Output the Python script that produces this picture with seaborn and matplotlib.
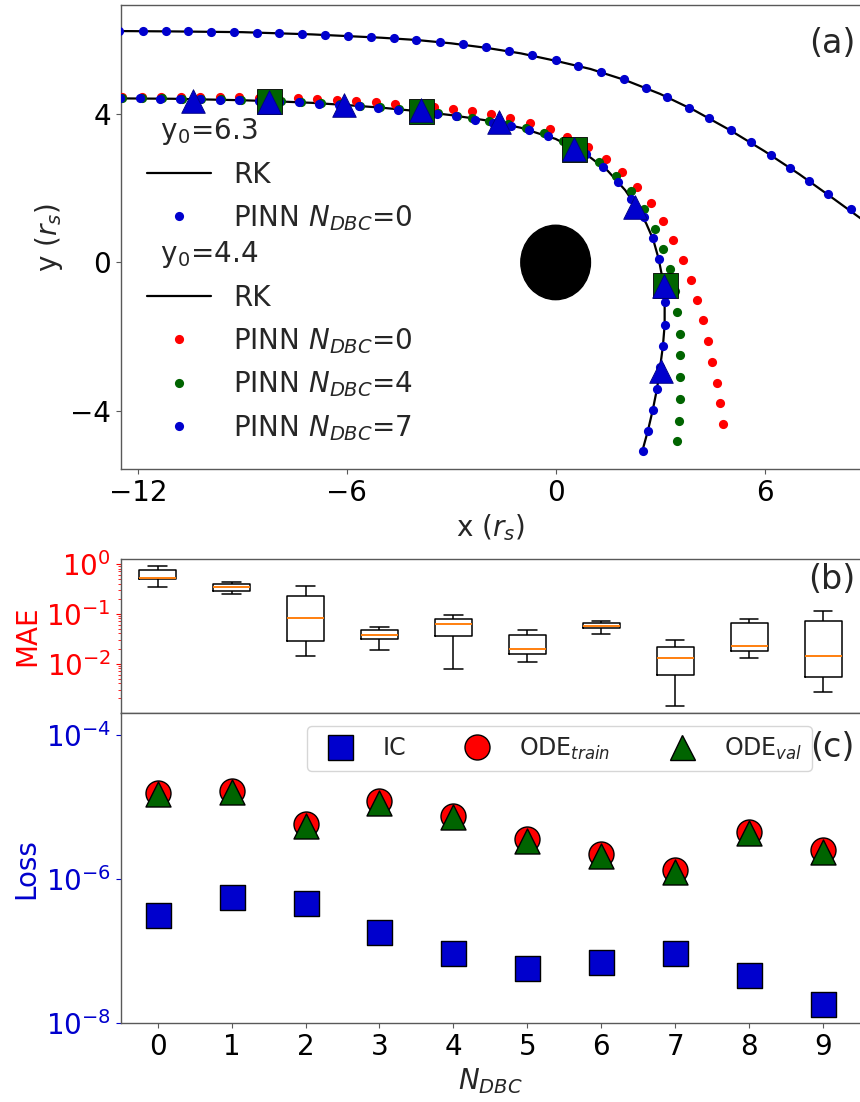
import numpy as np
import pandas as pd
import matplotlib
matplotlib.use("Agg")
import matplotlib.pyplot as plt
import seaborn as sns
from matplotlib.patches import Circle
from matplotlib.lines import Line2D
from matplotlib.ticker import FixedLocator, NullLocator

# ---------------- data: panel (a) trajectories ----------------
# y0 = 6.3 : PINN N_DBC=0 (blue dots) and RK reference
up_pinn_x = [-12.55, -11.86, -11.20, -10.55, -9.90, -9.24, -8.58, -7.93, -7.28, -6.62,
             -5.97, -5.31, -4.65, -4.00, -3.31, -2.66, -1.99, -1.35, -0.69, 0.00,
             0.65, 1.30, 1.96, 2.59, 3.21, 3.84, 4.41, 5.03, 5.61, 6.18,
             6.73, 7.28, 7.82, 8.48]
up_pinn_y = [6.22, 6.22, 6.21, 6.21, 6.20, 6.19, 6.17, 6.16, 6.14, 6.11,
             6.09, 6.06, 6.02, 5.98, 5.93, 5.86, 5.78, 5.68, 5.57, 5.44,
             5.29, 5.12, 4.92, 4.69, 4.44, 4.16, 3.87, 3.56, 3.23, 2.89,
             2.54, 2.19, 1.83, 1.43]
up_rk_x = [-12.6, -11, -9, -7, -5, -4, -3, -2, -1, 0, 1, 2, 3, 4, 5, 6, 7, 8, 9]
up_rk_y = [6.22, 6.21, 6.19, 6.13, 6.04, 5.98, 5.89, 5.77, 5.62, 5.42, 5.20, 4.90,
           4.53, 4.08, 3.56, 2.99, 2.37, 1.70, 1.02]

# y0 = 4.4 : RK reference
lo_rk_x = [-12.6, -11, -10, -9, -8, -7, -6, -5, -4, -3, -2, -1, 0, 0.5, 1.0, 1.5,
           2.0, 2.3, 2.6, 2.8, 2.96, 3.08, 3.13, 3.13, 3.08, 3.0, 2.91, 2.79, 2.65, 2.48]
lo_rk_y = [4.41, 4.40, 4.38, 4.36, 4.33, 4.29, 4.23, 4.16, 4.07, 3.96, 3.82, 3.62,
           3.32, 3.08, 2.82, 2.46, 1.94, 1.52, 1.05, 0.62, 0.09, -0.49, -1.07, -1.68,
           -2.25, -2.82, -3.40, -3.96, -4.52, -5.10]

# y0 = 4.4 : PINN N_DBC=0 (red)
lo_n0_x = [-12.45, -11.89, -11.33, -10.77, -10.21, -9.65, -9.09, -8.53, -7.97, -7.41,
           -6.85, -6.29, -5.73, -5.17, -4.61, -4.05, -3.49, -2.94, -2.40, -1.85,
           -1.31, -0.74, -0.17, 0.34, 0.94, 1.45, 1.90, 2.34, 2.75, 3.08,
           3.37, 3.66, 3.88, 4.06, 4.24, 4.38, 4.50, 4.62, 4.71, 4.81]
lo_n0_y = [4.45, 4.45, 4.45, 4.45, 4.45, 4.45, 4.44, 4.43, 4.42, 4.41,
           4.39, 4.37, 4.34, 4.31, 4.27, 4.23, 4.18, 4.12, 4.06, 3.98,
           3.89, 3.76, 3.58, 3.37, 3.09, 2.79, 2.44, 2.03, 1.59, 1.12,
           0.61, 0.07, -0.46, -1.00, -1.55, -2.12, -2.68, -3.24, -3.78, -4.34]

# y0 = 4.4 : PINN N_DBC=4 (green)
lo_n4_x = [-12.45, -11.88, -11.31, -10.74, -10.17, -9.60, -9.03, -8.46, -7.89, -7.32,
           -6.75, -6.18, -5.61, -5.05, -4.49, -3.93, -3.38, -2.84, -2.40, -1.90,
           -1.38, -0.86, -0.33, 0.20, 0.72, 1.25, 1.74, 2.17, 2.55, 2.84,
           3.08, 3.27, 3.42, 3.49, 3.56, 3.58, 3.58, 3.56, 3.54, 3.49]
lo_n4_y = [4.41, 4.41, 4.41, 4.40, 4.39, 4.38, 4.37, 4.35, 4.33, 4.31,
           4.28, 4.25, 4.21, 4.17, 4.12, 4.07, 4.01, 3.94, 3.88, 3.80,
           3.71, 3.62, 3.49, 3.27, 3.00, 2.69, 2.33, 1.92, 1.43, 0.90,
           0.36, -0.18, -0.76, -1.34, -1.92, -2.50, -3.09, -3.67, -4.25, -4.81]

# y0 = 4.4 : PINN N_DBC=7 (blue)
lo_n7_x = [-12.50, -11.93, -11.36, -10.79, -10.22, -9.65, -9.08, -8.51, -7.94, -7.37,
           -6.80, -6.23, -5.66, -5.10, -4.54, -3.98, -3.42, -2.87, -2.32, -1.81,
           -1.29, -0.76, -0.21, 0.34, 0.87, 1.35, 1.78, 2.17, 2.53, 2.79,
           2.96, 3.08, 3.13, 3.13, 3.08, 3.01, 2.91, 2.79, 2.65, 2.52]
lo_n7_y = [4.41, 4.41, 4.40, 4.39, 4.38, 4.37, 4.36, 4.34, 4.32, 4.30,
           4.27, 4.24, 4.20, 4.16, 4.11, 4.06, 4.00, 3.93, 3.84, 3.75,
           3.66, 3.55, 3.40, 3.18, 2.91, 2.57, 2.15, 1.70, 1.21, 0.67,
           0.09, -0.49, -1.07, -1.68, -2.25, -2.82, -3.40, -3.96, -4.52, -5.07]

# data boundary condition points
dbc4_x = [-8.23, -3.86, 0.52, 3.13]
dbc4_y = [4.33, 4.08, 3.05, -0.61]
dbc7_x = [-10.41, -8.23, -6.07, -3.86, -1.63, 0.52, 2.28, 3.10, 3.03]
dbc7_y = [4.35, 4.32, 4.22, 4.09, 3.78, 3.05, 1.50, -0.63, -2.91]

# ---------------- data: panel (b) MAE box statistics ----------------
n_dbc = [0, 1, 2, 3, 4, 5, 6, 7, 8, 9]
mae_min = [0.34, 0.25, 0.0142, 0.0185, 0.0077, 0.0108, 0.0392, 0.0014, 0.0132, 0.00267]
mae_q1 = [0.49, 0.28, 0.0288, 0.0316, 0.0357, 0.0156, 0.0517, 0.00585, 0.0177, 0.0055]
mae_med = [0.52, 0.34, 0.081, 0.037, 0.061, 0.0194, 0.0575, 0.0132, 0.0222, 0.0145]
mae_q3 = [0.76, 0.40, 0.225, 0.048, 0.077, 0.0375, 0.066, 0.0215, 0.066, 0.0713]
mae_max = [0.90, 0.42, 0.357, 0.054, 0.0955, 0.0464, 0.0724, 0.0297, 0.077, 0.111]

# ---------------- data: panel (c) losses ----------------
loss_ic = [3.18e-7, 5.71e-7, 4.72e-7, 1.83e-7, 9.35e-8, 5.8e-8, 7.1e-8, 9.35e-8, 4.67e-8, 1.84e-8]
loss_ode_train = [1.58e-5, 1.69e-5, 5.82e-6, 1.23e-5, 7.51e-6, 3.57e-6, 2.24e-6, 1.34e-6, 4.56e-6, 2.54e-6]
loss_ode_val = [1.50e-5, 1.60e-5, 5.47e-6, 1.15e-5, 7.21e-6, 3.42e-6, 2.12e-6, 1.27e-6, 4.33e-6, 2.41e-6]

# ---------------- style ----------------
sns.set_style("ticks")
plt.rcParams["font.family"] = ["DejaVu Sans"]
plt.rcParams["mathtext.fontset"] = "dejavusans"
plt.rcParams["font.size"] = 20
plt.rcParams["axes.edgecolor"] = "0.35"
plt.rcParams["axes.linewidth"] = 1.0
plt.rcParams["xtick.color"] = "0.35"
plt.rcParams["ytick.color"] = "0.35"
plt.rcParams["xtick.labelcolor"] = "black"
plt.rcParams["ytick.labelcolor"] = "black"

BLUE = "#0000CD"
GREEN = "#006400"
RED = "#FF0000"
W, H = 860, 1102
fig = plt.figure(figsize=(W / 100, H / 100), dpi=100)

def pos(l, t, r, b):
    return [l / W, 1 - b / H, (r - l) / W, (b - t) / H]

ax_a = fig.add_axes(pos(120.7, 5, 860, 469.3))
ax_b = fig.add_axes(pos(120.7, 559, 860, 713.3))
ax_c = fig.add_axes(pos(120.7, 713.3, 860, 1023.3))
for ax in (ax_a, ax_b, ax_c):
    ax.spines["right"].set_visible(False)
    ax.tick_params(length=3.5, width=0.8, labelsize=20)

# ---------------- panel (a) ----------------
ax_a.add_patch(Circle((0, 0), 1.0, color="black", zorder=2))
sns.lineplot(x=up_rk_x, y=up_rk_y, sort=False, estimator=None, color="black", lw=1.6, ax=ax_a, zorder=2)
sns.lineplot(x=lo_rk_x, y=lo_rk_y, sort=False, estimator=None, color="black", lw=1.6, ax=ax_a, zorder=2)
DOT = 6.6
sns.scatterplot(x=up_pinn_x, y=up_pinn_y, color=BLUE, s=DOT ** 2, linewidth=0, ax=ax_a, zorder=3)
sns.scatterplot(x=lo_n0_x, y=lo_n0_y, color=RED, s=DOT ** 2, linewidth=0, ax=ax_a, zorder=3)
sns.scatterplot(x=lo_n4_x, y=lo_n4_y, color=GREEN, s=DOT ** 2, linewidth=0, ax=ax_a, zorder=3)
sns.scatterplot(x=lo_n7_x, y=lo_n7_y, color=BLUE, s=DOT ** 2, linewidth=0, ax=ax_a, zorder=3)
sns.scatterplot(x=dbc4_x, y=dbc4_y, marker="s", color=GREEN, s=18 ** 2, edgecolor="black", linewidth=0.6, ax=ax_a, zorder=4)
sns.scatterplot(x=dbc7_x, y=dbc7_y, marker="^", color=BLUE, s=17 ** 2, edgecolor="#000080", linewidth=0.6, ax=ax_a, zorder=5)

ax_a.set_xlim(-12.49, 8.74)
ax_a.set_ylim(-5.56, 6.92)
ax_a.xaxis.set_major_locator(FixedLocator([-12, -6, 0, 6]))
ax_a.yaxis.set_major_locator(FixedLocator([-4, 0, 4]))
ax_a.set_xlabel("x ($r_s$)", fontsize=20)
ax_a.set_ylabel("y ($r_s$)", fontsize=20)
ax_a.text(0.962, 0.918, "(a)", transform=ax_a.transAxes, fontsize=24, ha="center", va="center")

rk_h = Line2D([], [], color="black", lw=1.6)
def dot_h(c):
    return Line2D([], [], ls="", marker="o", ms=DOT, color=c, mew=0)

leg1 = ax_a.legend([rk_h, dot_h(BLUE)], ["RK", "PINN $N_{DBC}$=0"],
                   title="\u2002y$_0$=6.3", title_fontsize=20, alignment="left",
                   loc="upper left", bbox_to_anchor=(0.0207, 0.785), borderaxespad=0,
                   frameon=False, fontsize=20, handlelength=2.3, labelspacing=0.5,
                   borderpad=0.4)
ax_a.add_artist(leg1)
ax_a.legend([rk_h, dot_h(RED), dot_h(GREEN), dot_h(BLUE)],
            ["RK", "PINN $N_{DBC}$=0", "PINN $N_{DBC}$=4", "PINN $N_{DBC}$=7"],
            title="\u2002y$_0$=4.4", title_fontsize=20, alignment="left",
            loc="upper left", bbox_to_anchor=(0.0207, 0.52), borderaxespad=0,
            frameon=False, fontsize=20, handlelength=2.3, labelspacing=0.5,
            borderpad=0.4)

# ---------------- panel (b) ----------------
mae_vals = []
mae_cat = []
for i, n in enumerate(n_dbc):
    mae_vals += [mae_min[i], mae_q1[i], mae_med[i], mae_q3[i], mae_max[i]]
    mae_cat += [n] * 5
mae_df = pd.DataFrame({"N": mae_cat, "MAE": mae_vals})
sns.boxplot(data=mae_df, x="N", y="MAE", ax=ax_b, whis=(0, 100), width=0.5,
            fill=False, color="black", linecolor="black", linewidth=1.1,
            medianprops=dict(color="#FF7F0E", linewidth=1.4),
            showfliers=False, log_scale=True)
ax_b.set_xlim(-0.5, 9.5)
ax_b.set_ylim(1.01e-3, 1.24)
ax_b.set_xlabel("")
ax_b.set_ylabel("MAE", color="red", fontsize=20)
ax_b.tick_params(axis="x", bottom=False, labelbottom=False)
ax_b.tick_params(axis="y", which="both", colors="red", labelcolor="red")
ax_b.tick_params(axis="y", which="minor", length=2)
ax_b.text(0.962, 0.87, "(b)", transform=ax_b.transAxes, fontsize=24, ha="center", va="center")

# ---------------- panel (c) ----------------
ax_c.set_yscale("log")
ms = 18
sns.scatterplot(x=n_dbc, y=loss_ic, marker="s", color=BLUE, s=ms ** 2, edgecolor="black", linewidth=1.0, ax=ax_c, zorder=3)
sns.scatterplot(x=n_dbc, y=loss_ode_train, marker="o", color=RED, s=ms ** 2, edgecolor="black", linewidth=1.0, ax=ax_c, zorder=3)
sns.scatterplot(x=n_dbc, y=loss_ode_val, marker="^", color=GREEN, s=ms ** 2, edgecolor="black", linewidth=1.0, ax=ax_c, zorder=4)
ax_c.set_xlim(-0.5, 9.5)
ax_c.set_ylim(1e-8, 2e-4)
ax_c.xaxis.set_major_locator(FixedLocator(n_dbc))
ax_c.yaxis.set_major_locator(FixedLocator([1e-8, 1e-6, 1e-4]))
ax_c.yaxis.set_minor_locator(NullLocator())
ax_c.tick_params(axis="y", colors=BLUE, labelcolor=BLUE)
ax_c.set_xlabel("$N_{DBC}$", fontsize=20)
ax_c.set_ylabel("Loss", color=BLUE, fontsize=20)
ax_c.text(0.962, 0.891, "(c)", transform=ax_c.transAxes, fontsize=24, ha="center", va="center")

handles_c = [Line2D([], [], ls="", marker="s", ms=ms, mfc=BLUE, mec="black", mew=1.0),
             Line2D([], [], ls="", marker="o", ms=ms, mfc=RED, mec="black", mew=1.0),
             Line2D([], [], ls="", marker="^", ms=ms, mfc=GREEN, mec="black", mew=1.0)]
ax_c.legend(handles_c, ["IC", "ODE$_{train}$", "ODE$_{val}$"], ncol=3, fontsize=17,
            loc="upper right", bbox_to_anchor=(0.935, 0.959), borderaxespad=0,
            frameon=True)

fig.savefig("out.png", dpi=100)
